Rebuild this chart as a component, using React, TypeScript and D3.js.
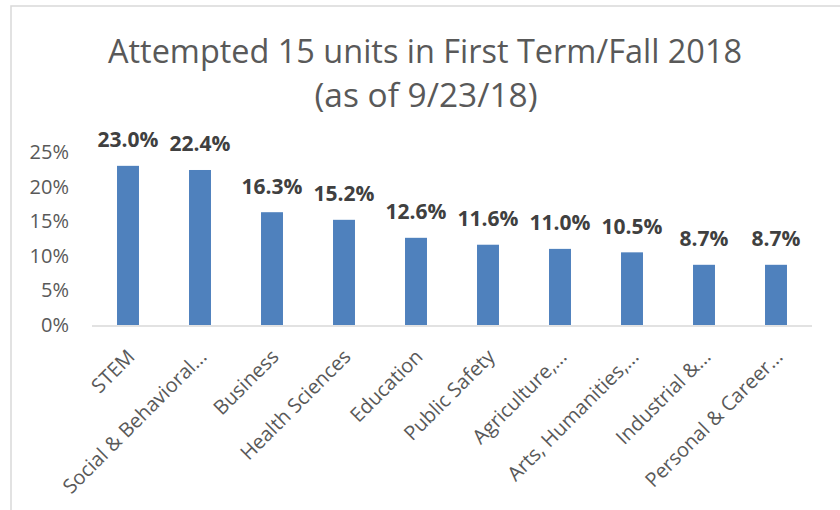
import React from "react";
import * as d3 from "d3";

const categories = [
  "STEM",
  "Social & Behavioral...",
  "Business",
  "Health Sciences",
  "Education",
  "Public Safety",
  "Agriculture,...",
  "Arts, Humanities,...",
  "Industrial &...",
  "Personal & Career...",
];
const values = [23.0, 22.4, 16.3, 15.2, 12.6, 11.6, 11.0, 10.5, 8.7, 8.7];
const yTicks = [0, 5, 10, 15, 20, 25];
const titleLines = ["Attempted 15 units in First Term/Fall 2018", "(as of 9/23/18)"];

const W = 840;
const H = 510;
const FONT = "'Open Sans', 'DejaVu Sans', sans-serif";

export default function App() {
  const x = d3.scaleBand<string>().domain(categories).range([92, 812]).paddingInner(0).paddingOuter(0);
  const y = d3.scaleLinear().domain([0, 25]).range([325, 152]);
  const barW = x.step() * 0.305;

  return (
    <svg
      width={W}
      height={H}
      style={{ position: "absolute", left: 0, top: 0, background: "#fff" }}
      fontFamily={FONT}
    >
      <rect x={0} y={0} width={W} height={H} fill="#fff" />
      <rect x={11} y={6} width={W + 20} height={H + 20} fill="#fff" stroke="#d9d9d9" strokeWidth={1.5} />
      <text x={425} y={63} textAnchor="middle" fontSize={32} fill="#595959" textLength={634} lengthAdjust="spacingAndGlyphs">
        {titleLines[0]}
      </text>
      <text x={426} y={107} textAnchor="middle" fontSize={32} fill="#595959" textLength={223} lengthAdjust="spacingAndGlyphs">
        {titleLines[1]}
      </text>
      {yTicks.map((t) => (
        <text key={t} x={69} y={y(t) + 7} textAnchor="end" fontSize={20} fill="#595959">
          {t}%
        </text>
      ))}
      {categories.map((c, i) => {
        const cx = (x(c) as number) + x.bandwidth() / 2;
        const ax = cx + 8;
        const ay = 358;
        return (
          <g key={c}>
            <rect x={cx - barW / 2} y={y(values[i])} width={barW} height={y(0) - y(values[i])} fill="#4f81bd" />
            <text x={cx} y={y(values[i]) - 18.5} textAnchor="middle" fontSize={21} fontWeight="bold" fill="#404040">
              {values[i].toFixed(1)}%
            </text>
            <text
              x={ax}
              y={ay}
              textAnchor="end"
              fontSize={20}
              fill="#595959"
              transform={`rotate(-45 ${ax} ${ay})`}
            >
              {c}
            </text>
          </g>
        );
      })}
      <line x1={92} x2={812} y1={326} y2={326} stroke="#d9d9d9" strokeWidth={1.5} />
    </svg>
  );
}
